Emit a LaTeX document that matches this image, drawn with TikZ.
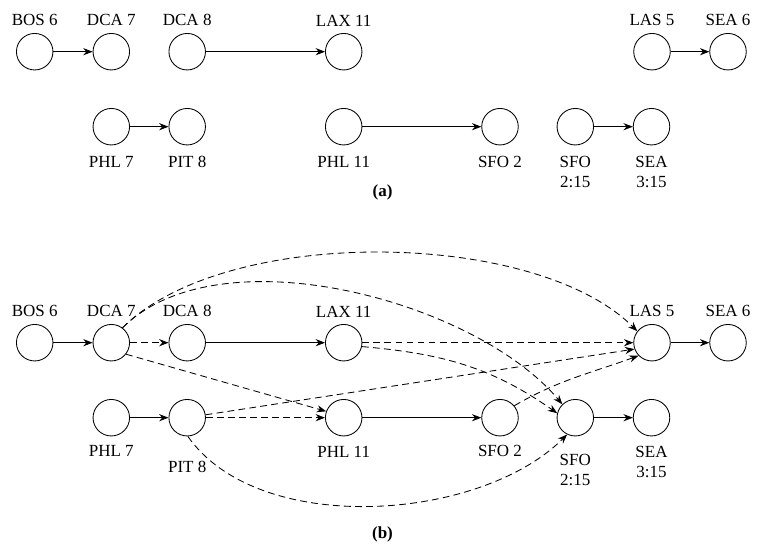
\documentclass[tikz,border=0pt]{standalone}
\usepackage{fontspec}
\setmainfont{Liberation Serif}
\usetikzlibrary{arrows.meta}

\begin{document}
\begin{tikzpicture}[x=0.020674cm, y=-0.020674cm, line width=0.5pt,
	stn/.style={draw,circle,minimum size=0.755cm,inner sep=0pt},
	arr/.style={-{Stealth[length=5.5pt,width=4.2pt]}},
	dsh/.style={arr,dash pattern=on 4pt off 2.5pt},
	dn/.style={label distance=3pt},
	label distance=0.5pt,
	every label/.style={font=\fontsize{10}{11.5}\selectfont, align=center}]
	\useasboundingbox (0,0) rectangle (765,553);
	% (a)
	\node[stn,label=above:BOS 6] (bosa) at (34.7,51.7) {};
	\node[stn,label=above:DCA 7] (dca7a) at (111.3,51.7) {};
	\node[stn,label=above:DCA 8] (dca8a) at (187.2,51.7) {};
	\node[stn,label=above:LAX 11] (laxa) at (343.7,51.7) {};
	\node[stn,label=above:LAS 5] (lasa) at (652,51.7) {};
	\node[stn,label=above:SEA 6] (sea6a) at (728,51.7) {};
	\node[stn,label={[dn]below:PHL 7}] (phl7a) at (111.3,126.7) {};
	\node[stn,label={[dn]below:PIT 8}] (pita) at (187.2,126.7) {};
	\node[stn,label={[dn]below:PHL 11}] (phl11a) at (343.7,126.7) {};
	\node[stn,label={[dn]below:SFO 2}] (sfo2a) at (500,126.7) {};
	\node[stn,label={[dn]below:{SFO\\2:15}}] (sfoa) at (575.3,126.7) {};
	\node[stn,label={[dn]below:{SEA\\3:15}}] (sea3a) at (651.5,126.7) {};
	\draw[arr] (bosa) -- (dca7a);
	\draw[arr] (dca8a) -- (laxa);
	\draw[arr] (lasa) -- (sea6a);
	\draw[arr] (phl7a) -- (pita);
	\draw[arr] (phl11a) -- (sfo2a);
	\draw[arr] (sfoa) -- (sea3a);
	\node (capa) at (382.5,192) {\textbf{(a)}};
	% (b)
	\node[stn,label=above:BOS 6] (bosb) at (34.7,342.7) {};
	\node[stn,label=above:DCA 7] (dca7b) at (111.3,342.7) {};
	\node[stn,label=above:DCA 8] (dca8b) at (187.2,342.7) {};
	\node[stn,label=above:LAX 11] (laxb) at (343.7,342.7) {};
	\node[stn,label=above:LAS 5] (lasb) at (652,342.7) {};
	\node[stn,label=above:SEA 6] (sea6b) at (728,342.7) {};
	\node[stn,label={[label distance=1.5pt]below:PHL 7}] (phl7b) at (111.3,417.7) {};
	\node[stn,label={[label distance=11pt]below:PIT 8}] (pitb) at (187.2,417.7) {};
	\node[stn,label={[label distance=2pt]below:PHL 11}] (phl11b) at (343.7,417.7) {};
	\node[stn,label={[label distance=1.5pt]below:SFO 2}] (sfo2b) at (500,417.7) {};
	\node[stn,label={[label distance=7pt]below:{SFO\\2:15}}] (sfob) at (575.3,417.7) {};
	\node[stn,label={[label distance=2.5pt]below:{SEA\\3:15}}] (sea3b) at (651.5,417.7) {};
	\draw[arr] (bosb) -- (dca7b);
	\draw[arr] (dca8b) -- (laxb);
	\draw[arr] (lasb) -- (sea6b);
	\draw[arr] (phl7b) -- (pitb);
	\draw[arr] (phl11b) -- (sfo2b);
	\draw[arr] (sfob) -- (sea3b);
	% dashed connections
	\draw[dsh] (dca7b) -- (dca8b);
	\draw[dsh] (dca7b.-38) -- (phl11b.160);
	\draw[dsh] (dca7b.53) to[out=45, in=135, looseness=0.72] (lasb.142);
	\draw[dsh] (dca7b.53) to[out=45, in=130, looseness=0.78] (sfob.134);
	\draw[dsh] (laxb) -- (lasb);
	\draw[dsh] (laxb.-12) to[out=-5, in=145] (sfob.166);
	\draw[dsh] (pitb) -- (phl11b);
	\draw[dsh] (pitb.9) -- (lasb.200);
	\draw[dsh] (pitb.-88) to[out=-55, in=-135, looseness=0.83] (sfob.-116);
	\draw[dsh] (sfo2b.40) to[out=30, in=200] (lasb.-136);
	\node (capb) at (382.5,534) {\textbf{(b)}};
\end{tikzpicture}
\end{document}
